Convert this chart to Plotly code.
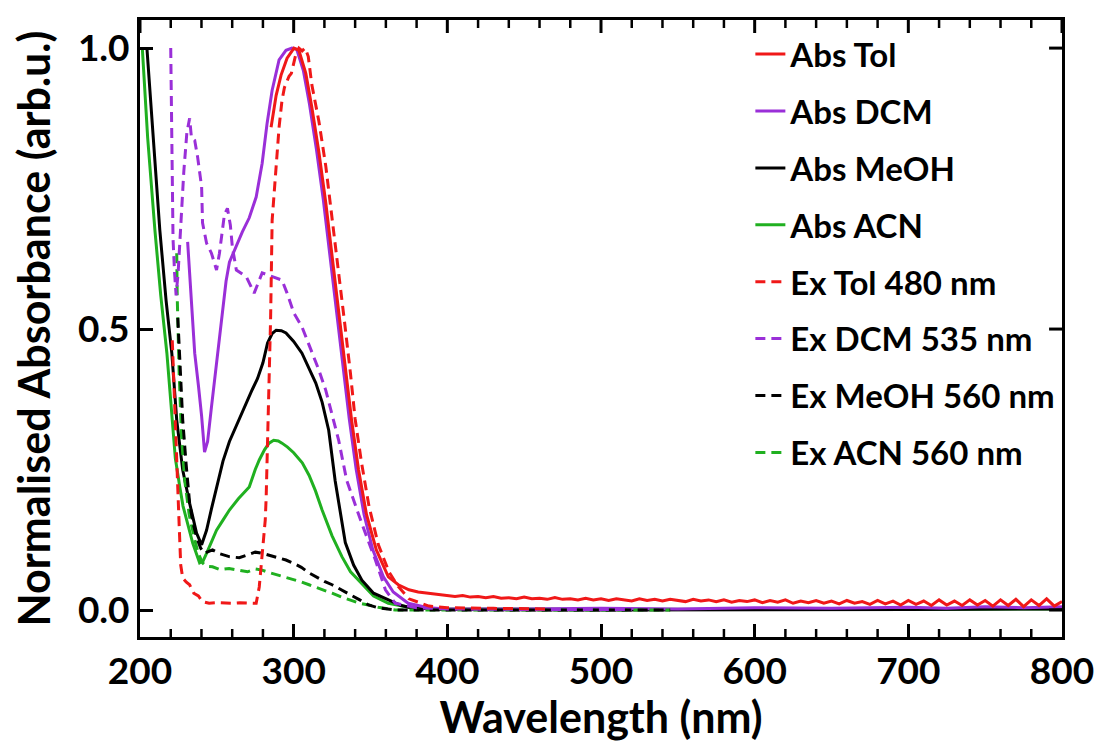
import plotly.graph_objects as go

# ---- Absorption spectra (normalised) ----
abs_tol_wl = [285.3, 288.6, 291.8, 295.7, 300.2, 303.4, 307.9, 311.8, 316.4, 320.9,
              325.0, 329.0, 333.0, 337.7, 342.2, 347.4, 353.8, 361.6, 368.1, 375.0,
              381.0, 390.0, 395.0]
abs_tol_val = [0.859, 0.916, 0.952, 0.982, 1.0, 0.996, 0.955, 0.895, 0.815, 0.725,
               0.630, 0.535, 0.440, 0.338, 0.250, 0.170, 0.107, 0.059, 0.045, 0.036,
               0.032, 0.029, 0.028]
# noisy baseline of the toluene spectrum, 400-800 nm in 5 nm steps
abs_tol_tail_wl = list(range(400, 805, 5))
abs_tol_tail_val = [0.027, 0.024, 0.026, 0.023, 0.024, 0.022, 0.024, 0.021, 0.022, 0.020,
                    0.023, 0.020, 0.021, 0.019, 0.022, 0.019, 0.020, 0.018, 0.021, 0.018,
                    0.020, 0.017, 0.020, 0.018, 0.016, 0.020, 0.017, 0.019, 0.016, 0.019,
                    0.017, 0.015, 0.019, 0.016, 0.018, 0.015, 0.018, 0.014, 0.017, 0.015,
                    0.018, 0.013, 0.017, 0.014, 0.018, 0.012, 0.016, 0.013, 0.017, 0.012,
                    0.016, 0.011, 0.017, 0.012, 0.015, 0.010, 0.017, 0.011, 0.016, 0.009,
                    0.017, 0.010, 0.016, 0.008, 0.018, 0.009, 0.016, 0.008, 0.018, 0.009,
                    0.017, 0.007, 0.018, 0.008, 0.019, 0.006, 0.018, 0.008, 0.020, 0.007,
                    0.015]

abs_dcm_wl = [231.0, 233.5, 235.6, 238.0, 240.1, 242.0, 244.0, 246.5, 250.0, 253.0,
              256.0, 258.2, 262.7, 266.6, 271.1, 275.6, 279.5, 282.7, 286.0, 290.5,
              295.0, 298.9, 302.0, 306.3, 310.3, 314.8, 319.3, 323.5, 327.5, 331.5,
              336.2, 340.7, 345.8, 351.5, 358.4, 364.8, 374.5, 387.5, 400, 450,
              500, 550, 600, 650, 700, 725, 750, 775, 800]
abs_dcm_val = [0.655, 0.550, 0.457, 0.400, 0.345, 0.281, 0.300, 0.361, 0.440, 0.516,
               0.585, 0.619, 0.649, 0.673, 0.698, 0.735, 0.795, 0.866, 0.925, 0.979,
               0.996, 1.0, 0.998, 0.960, 0.900, 0.820, 0.730, 0.635, 0.540, 0.445,
               0.340, 0.250, 0.170, 0.107, 0.059, 0.032, 0.012, 0.004, 0.002, 0.002,
               0.003, 0.002, 0.004, 0.003, 0.005, 0.003, 0.006, 0.004, 0.006]

abs_meoh_wl = [204.5, 208.0, 212.9, 217.0, 220.7, 223.9, 227.8, 232.3, 236.8, 240.1,
               243.3, 246.5, 249.8, 254.0, 258.2, 264.6, 269.2, 273.0, 276.5, 280.0,
               283.0, 286.0, 288.6, 292.0, 295.0, 300.0, 305.4, 310.0, 314.4, 318.5,
               322.8, 327.0, 333.6, 339.0, 344.4, 352.0, 361.6, 370.0, 376.5, 400,
               500, 600, 700, 800]
abs_meoh_val = [1.0, 0.860, 0.676, 0.550, 0.457, 0.338, 0.249, 0.190, 0.137, 0.116,
                0.142, 0.180, 0.219, 0.265, 0.300, 0.340, 0.370, 0.392, 0.412, 0.440,
                0.475, 0.492, 0.498, 0.497, 0.493, 0.478, 0.457, 0.430, 0.404, 0.370,
                0.320, 0.230, 0.120, 0.080, 0.053, 0.030, 0.018, 0.008, 0.004, 0.001,
                0.0, 0.0, 0.001, 0.002]

abs_acn_wl = [201.5, 205.0, 209.7, 213.5, 217.5, 220.7, 223.0, 225.9, 228.0, 230.4,
              234.3, 238.8, 241.0, 243.3, 246.5, 249.8, 254.0, 258.2, 264.0, 271.1,
              275.0, 277.6, 281.0, 284.0, 287.0, 290.0, 292.4, 296.0, 300.0, 305.6,
              310.0, 314.2, 318.5, 325.0, 331.4, 337.0, 344.4, 352.0, 361.6, 376.5,
              400, 500, 600, 700, 800]
abs_acn_val = [1.0, 0.840, 0.676, 0.560, 0.457, 0.338, 0.270, 0.219, 0.185, 0.160,
               0.119, 0.084, 0.087, 0.101, 0.120, 0.142, 0.160, 0.178, 0.198, 0.219,
               0.250, 0.267, 0.285, 0.297, 0.302, 0.301, 0.297, 0.290, 0.280, 0.262,
               0.240, 0.212, 0.178, 0.132, 0.095, 0.068, 0.047, 0.025, 0.012, 0.004,
               0.002, 0.001, 0.001, 0.001, 0.002]

# ---- Excitation spectra (normalised) ----
ex_tol_wl = [221.0, 222.5, 224.0, 225.5, 226.5, 227.8, 230.0, 232.3, 235.0, 238.0,
             240.7, 245.0, 250.0, 255.0, 260.0, 265.0, 270.0, 275.6, 277.6, 281.5,
             282.1, 283.3, 285.0, 286.0, 288.6, 290.5, 292.4, 294.0, 295.5, 297.0,
             298.5, 300.0, 301.5, 303.4, 305.5, 307.5, 309.5, 311.8, 316.4, 320.9,
             325.0, 329.0, 333.0, 337.0, 340.0, 344.0, 349.0, 355.0, 362.0, 368.0,
             375.0, 388.0, 400.0, 430.0, 465.0]
ex_tol_val = [0.480, 0.360, 0.250, 0.150, 0.080, 0.057, 0.050, 0.045, 0.030, 0.025,
              0.015, 0.012, 0.013, 0.012, 0.012, 0.013, 0.012, 0.012, 0.041, 0.160,
              0.200, 0.338, 0.520, 0.694, 0.795, 0.859, 0.907, 0.930, 0.940, 0.950,
              0.955, 0.970, 0.990, 1.0, 0.995, 1.0, 0.985, 0.935, 0.870, 0.790,
              0.700, 0.610, 0.515, 0.420, 0.340, 0.265, 0.185, 0.117, 0.068, 0.042,
              0.020, 0.007, 0.004, 0.003, 0.002]

ex_dcm_wl = [220.0, 220.6, 221.5, 222.5, 223.5, 224.8, 226.5, 228.5, 230.5, 232.3,
             233.5, 235.6, 237.5, 240.1, 240.7, 243.3, 246.5, 249.8, 251.7, 254.9,
             256.9, 258.8, 260.1, 262.7, 269.2, 274.3, 279.5, 286.0, 292.4, 295.7,
             300.2, 305.4, 311.2, 316.4, 320.9, 324.1, 329.3, 334.5, 344.2, 353.2,
             359.7, 366.1, 380.0, 400.0, 450.0, 520.0]
ex_dcm_val = [1.0, 0.800, 0.660, 0.600, 0.560, 0.600, 0.690, 0.780, 0.850, 0.875,
              0.840, 0.836, 0.806, 0.753, 0.689, 0.653, 0.635, 0.605, 0.635, 0.703,
              0.715, 0.685, 0.646, 0.605, 0.593, 0.564, 0.600, 0.593, 0.587, 0.564,
              0.528, 0.504, 0.463, 0.427, 0.391, 0.356, 0.302, 0.231, 0.155, 0.089,
              0.036, 0.012, 0.004, 0.002, 0.001, 0.001]

ex_meoh_wl = [224.6, 226.0, 227.8, 230.0, 232.3, 234.5, 236.8, 239.5, 242.0, 247.2,
              252.0, 258.0, 264.6, 270.0, 275.0, 279.5, 285.0, 290.0, 295.0, 300.0,
              305.0, 310.0, 314.4, 320.0, 325.0, 331.2, 337.0, 343.0, 348.7, 355.0,
              366.1, 400.0, 450.0, 545.0]
ex_meoh_val = [0.520, 0.430, 0.338, 0.260, 0.190, 0.155, 0.130, 0.110, 0.101, 0.107,
               0.100, 0.095, 0.093, 0.098, 0.103, 0.101, 0.097, 0.093, 0.089, 0.083,
               0.076, 0.066, 0.059, 0.051, 0.045, 0.036, 0.027, 0.018, 0.009, 0.004,
               0.0, 0.0, 0.0, 0.0]

ex_acn_wl = [223.9, 224.2, 225.5, 227.0, 229.1, 232.0, 235.6, 238.0, 240.7, 243.0,
             247.2, 252.0, 258.0, 264.6, 270.0, 275.0, 279.5, 285.0, 290.0, 295.0,
             300.0, 305.0, 310.0, 314.4, 320.0, 325.0, 331.2, 337.0, 343.0, 348.7,
             355.0, 366.1, 400.0, 450.0, 545.0]
ex_acn_val = [0.635, 0.560, 0.420, 0.310, 0.231, 0.170, 0.125, 0.100, 0.084, 0.078,
              0.077, 0.072, 0.074, 0.071, 0.068, 0.073, 0.071, 0.066, 0.062, 0.059,
              0.055, 0.050, 0.045, 0.041, 0.035, 0.030, 0.023, 0.018, 0.012, 0.009,
              0.005, 0.0, 0.0, 0.0, 0.0]

x_ticks = [200, 300, 400, 500, 600, 700, 800]
x_minor_ticks = [v for v in range(220, 800, 20) if v % 100 != 0]
y_ticks = [0.0, 0.5, 1.0]

X_RANGE = [200, 800]
Y_RANGE = [-0.048, 1.05]
WIDTH, HEIGHT = 1106, 742
MARGIN = dict(l=140, r=38, t=20, b=105)

RED = "#f01818"
PURPLE = "#9a2fd8"
BLACK = "#000000"
GREEN = "#20b020"
DASH = "10px,6px"
LW = 3

series = [
    # name, x, y, colour, dash, legend rank
    ("Abs Tol", abs_tol_wl + abs_tol_tail_wl, abs_tol_val + abs_tol_tail_val, RED, "solid", 1),
    ("Abs DCM", abs_dcm_wl, abs_dcm_val, PURPLE, "solid", 2),
    ("Abs MeOH", abs_meoh_wl, abs_meoh_val, BLACK, "solid", 3),
    ("Abs ACN", abs_acn_wl, abs_acn_val, GREEN, "solid", 4),
    ("Ex Tol 480 nm", ex_tol_wl, ex_tol_val, RED, DASH, 5),
    ("Ex DCM 535 nm", ex_dcm_wl, ex_dcm_val, PURPLE, DASH, 6),
    ("Ex MeOH 560 nm", ex_meoh_wl, ex_meoh_val, BLACK, DASH, 7),
    ("Ex ACN 560 nm", ex_acn_wl, ex_acn_val, GREEN, DASH, 8),
]
# drawing order: DCM absorption beneath the toluene one, excitation spectra on top
draw_order = ["Abs ACN", "Abs MeOH", "Abs DCM", "Abs Tol",
              "Ex ACN 560 nm", "Ex MeOH 560 nm", "Ex DCM 535 nm", "Ex Tol 480 nm"]
lookup = {s[0]: s for s in series}


def bold(s):
    return "<b>" + s + "</b>"


fig = go.Figure()
for name in draw_order:
    n, xs, ys, col, dash, rank = lookup[name]
    fig.add_trace(go.Scatter(
        x=xs, y=ys, mode="lines", name=bold(n),
        line=dict(color=col, width=LW, dash=dash),
        legendgroup=n, legendrank=rank,
    ))

plot_w = WIDTH - MARGIN["l"] - MARGIN["r"]
plot_h = HEIGHT - MARGIN["t"] - MARGIN["b"]
px_y = (Y_RANGE[1] - Y_RANGE[0]) / plot_h

# minor ticks along the bottom edge, as a line trace
mx, my = [], []
for v in x_minor_ticks:
    mx += [v, v, None]
    my += [Y_RANGE[0], Y_RANGE[0] + 8 * px_y, None]
fig.add_trace(go.Scatter(x=mx, y=my, mode="lines", name="minor ticks",
                         line=dict(color="black", width=2.5), showlegend=False))

# ticks on the top and right edges, as shapes in paper fractions
shapes = []
for v in x_ticks:
    shapes.append(dict(type="line", xref="x", yref="paper", x0=v, x1=v,
                       y0=1, y1=1 - 13 / plot_h, line=dict(color="black", width=3)))
for v in x_minor_ticks:
    shapes.append(dict(type="line", xref="x", yref="paper", x0=v, x1=v,
                       y0=1, y1=1 - 8 / plot_h, line=dict(color="black", width=2.5)))
for v in y_ticks:
    shapes.append(dict(type="line", xref="paper", yref="y", x0=1, x1=1 - 13 / plot_w,
                       y0=v, y1=v, line=dict(color="black", width=3)))

FONT = "Lato"
tick_font = dict(family=FONT, size=37, color="black", weight="bold")
title_font = dict(family=FONT, size=43, color="black")

# bottom and left: the axes' own inward ticks
fig.update_xaxes(
    range=X_RANGE, tickmode="linear", tick0=200, dtick=100,
    showline=True, linewidth=3, linecolor="black", mirror=True,
    ticks="inside", ticklen=13, tickwidth=3, tickcolor="black",
    showgrid=False, zeroline=False, tickfont=tick_font,
    title=dict(text=bold("Wavelength (nm)"), standoff=0, font=title_font),
)
fig.update_yaxes(
    range=Y_RANGE, tickmode="linear", tick0=0, dtick=0.5, tickformat=".1f",
    showline=True, linewidth=3, linecolor="black", mirror=True,
    ticks="inside", ticklen=13, tickwidth=3, tickcolor="black",
    showgrid=False, zeroline=False, tickfont=tick_font,
    title=dict(text=bold("Normalised Absorbance (arb.u.)"), standoff=14, font=title_font),
)

fig.update_layout(
    width=WIDTH, height=HEIGHT,
    margin=MARGIN,
    paper_bgcolor="white", plot_bgcolor="white",
    shapes=shapes,
    legend=dict(
        x=0.662, y=0.99, xanchor="left", yanchor="top",
        font=dict(family=FONT, size=33, color="black"),
        bgcolor="rgba(0,0,0,0)",
        traceorder="grouped", tracegroupgap=11,
    ),
    showlegend=True,
)

fig.write_html("out.html")
